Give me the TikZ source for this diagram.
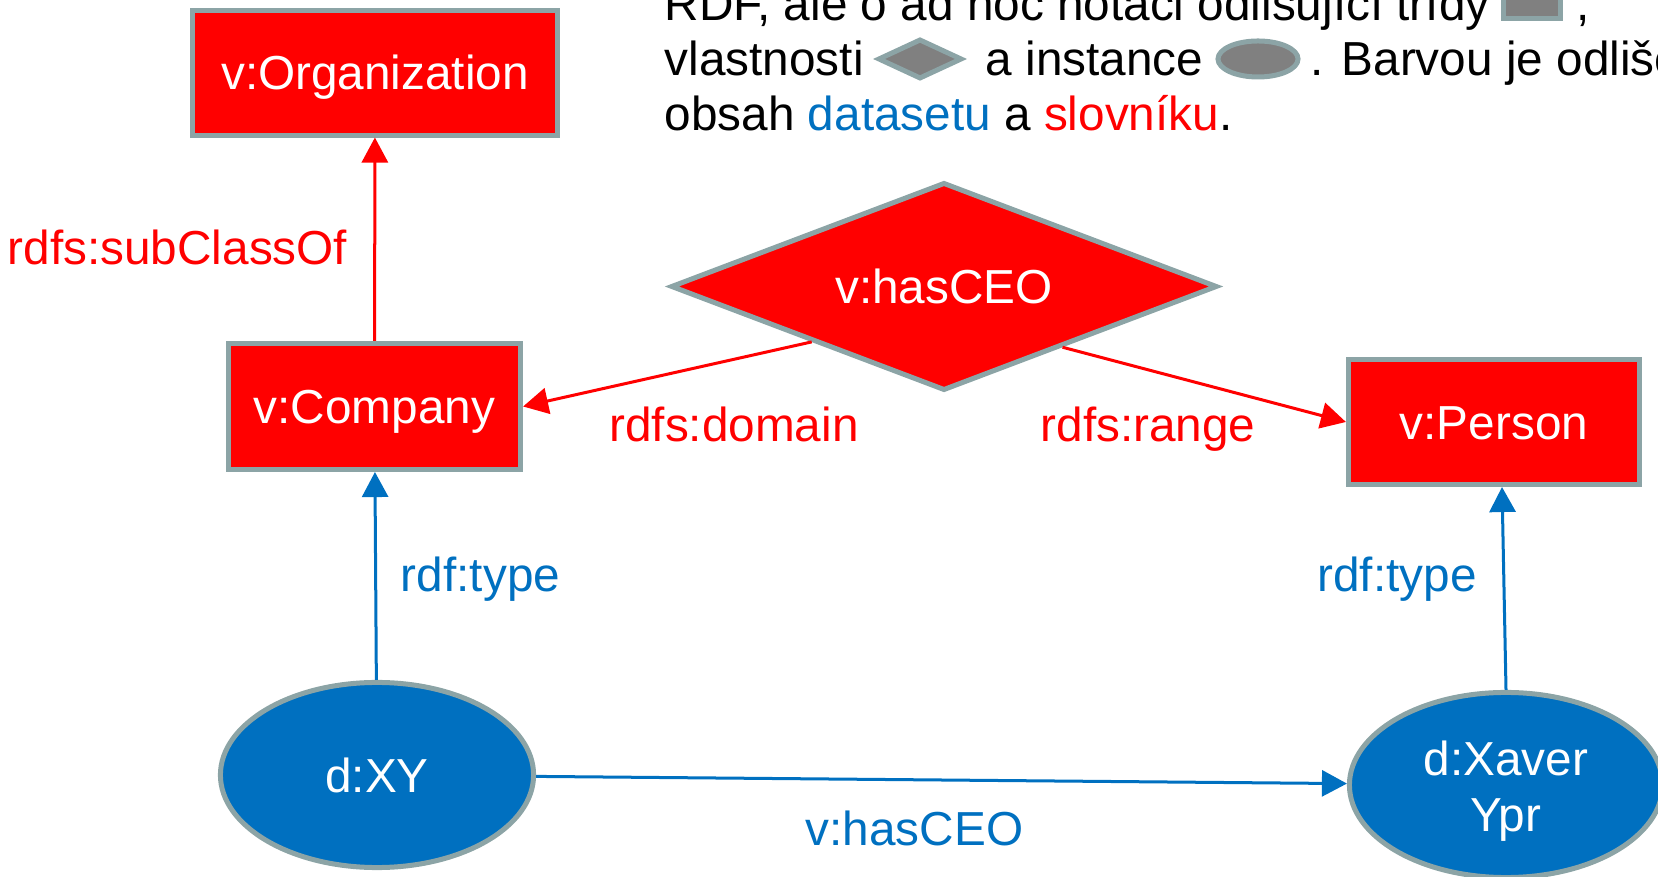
\documentclass[tikz,border=0pt]{standalone}
\usepackage{fontspec}
\setmainfont{Liberation Sans}
\usepackage{xcolor}
\usepackage{tikz}
\usetikzlibrary{positioning,shapes,arrows,arrows.meta,calc}
\definecolor{vocab}{RGB}{255,0,0}
\definecolor{data}{RGB}{0,112,192}
\definecolor{rim}{RGB}{140,164,166}
\tikzset{
    class/.style={
        rectangle,
        draw=rim,
        fill=vocab,
        line width=0.05cm,
        text=white,
        text height=0.34cm,
        text depth=0pt,
        inner sep=0pt
    },
    property/.style={
        diamond,
        aspect=2.6,
        draw=rim,
        fill=vocab,
        line width=0.05cm,
        text=white,
        text height=0.34cm,
        text depth=0pt,
        inner sep=0pt,
        minimum width=5.46cm,
        minimum height=2.08cm
    },
    instance/.style={
        ellipse,
        draw=rim,
        fill=data,
        line width=0.05cm,
        text=white,
        align=center,
        inner sep=0pt,
        minimum width=3.13cm,
        minimum height=1.85cm
    },
    arrow/.style={
        -{Triangle[length=0.25cm,width=0.26cm]},
        line width=0.03cm
    },
    icon/.style={
        draw=rim,
        fill=gray,
        line width=0.05cm,
        inner sep=0pt
    },
    note/.style={
        anchor=base west,
        inner sep=0pt
    },
    rellabel/.style={
        anchor=base,
        inner sep=0pt
    }
}

\begin{document}
\begin{tikzpicture}[x=0.01cm, y=-0.01cm, font=\fontsize{13.57}{15.9}\selectfont]
            \useasboundingbox (0,0) rectangle (1658,877);
            \clip (0,0) rectangle (1658,877);
            % legenda nahore
            \node (line1) [note] at (664,21) {RDF, ale o ad hoc notaci odlišující třídy};
            \node (classicon) [icon, rectangle, minimum width=0.57cm, minimum height=0.35cm] at (1532,1) {};
            \node (comma) [note] at (1576,21) {,};
            \node (line2) [note] at (664,76) {vlastnosti};
            \node (propicon) [icon, diamond, minimum width=0.84cm, minimum height=0.40cm] at (920,59) {};
            \node (line2b) [note] at (985,76) {a instance};
            \node (instanceicon) [icon, ellipse, minimum width=0.80cm, minimum height=0.36cm] at (1258,59) {};
            \node (line2c) [note] at (1310,76) {. Barvou je odlišen};
            \node (line3) [note] at (664,131) {obsah \textcolor{data}{datasetu} a \textcolor{vocab}{slovníku}.};
            % slovnik
            \node (organization) [class, minimum width=3.65cm, minimum height=1.24cm] at (375,73) {v:Organization};
            \node (company) [class, minimum width=2.92cm, minimum height=1.26cm] at (374.5,406.5) {v:Company};
            \node (person) [class, minimum width=2.91cm, minimum height=1.25cm] at (1494,422) {v:Person};
            \node (hasceo) [property] at (944,286.5) {v:hasCEO};
            % dataset
            \node (xy) [instance] at (377,775) {d:XY};
            \node (xaver) [instance, text height=0.92cm, text depth=0pt] at (1506,785) {d:Xaver\\Ypr};
            \coordinate (personfoot) at ($(xaver.north |- person.south)+(-4,0)$);
            \draw [arrow, vocab] (company) -- (organization);
            \draw [arrow, vocab] ($(hasceo.west)!0.52!(hasceo.south)$) -- (company.east);
            \draw [arrow, vocab] ($(hasceo.south)!0.43!(hasceo.east)$) -- (person.west);
            \draw [arrow, data] (xy) -- (company);
            \draw [arrow, data] (xaver.north) -- (personfoot);
            \draw [arrow, data] (xy) -- (xaver);
            \node (subclasslabel) [rellabel, text=vocab] at (177.5,265) {rdfs:subClassOf};
            \node (domainlabel) [rellabel, text=vocab] at (734,442) {rdfs:domain};
            \node (rangelabel) [rellabel, text=vocab] at (1148,442) {rdfs:range};
            \node (typelabel1) [rellabel, text=data] at (480.5,592) {rdf:type};
            \node (typelabel2) [rellabel, text=data] at (1397,592) {rdf:type};
            \node (ceolabel) [rellabel, text=data] at (914.5,845) {v:hasCEO};
        \end{tikzpicture}
\end{document}
